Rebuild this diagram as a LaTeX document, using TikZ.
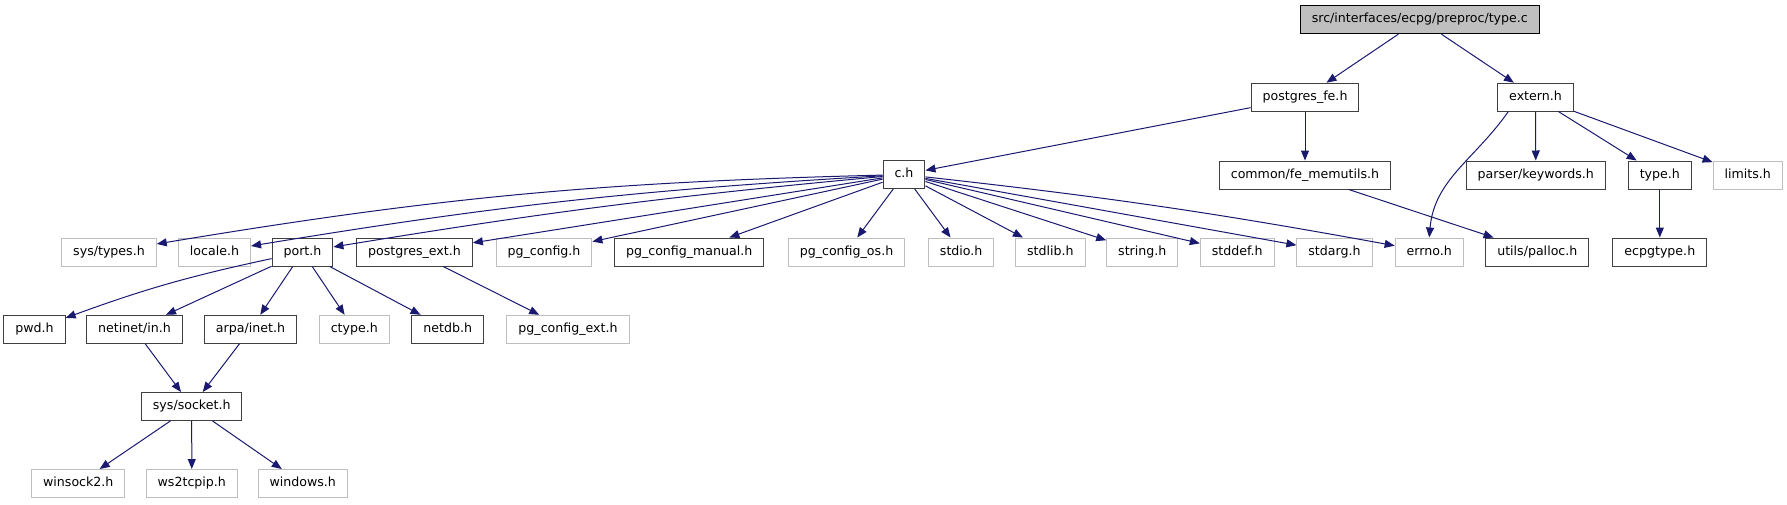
\documentclass[tikz,border=0pt]{standalone}
\usepackage{fontspec}
\setmainfont{DejaVu Sans}
\usepackage{tikz}
\usetikzlibrary{arrows.meta}
\usepackage{xcolor}
\definecolor{edgeblue}{HTML}{191970}
\definecolor{grey25}{HTML}{404040}
\definecolor{grey75}{HTML}{BFBFBF}

\begin{document}
\begin{tikzpicture}[x=1pt, y=-1pt,
  hdr/.style={draw=grey25, line width=1pt, minimum height=28pt, inner xsep=11.5pt, inner ysep=0pt,
    text height=9.5pt, text depth=3pt, font=\fontsize{12.6}{14}\selectfont},
  sysh/.style={hdr, draw=grey75},
  rootfile/.style={hdr, draw=black, fill=grey75},
  dep/.style={draw=edgeblue, line width=1pt, -{Triangle[length=10pt, width=8pt]}}]
\useasboundingbox (0,0) rectangle (1787,504);

% top of the graph
\node[rootfile] (typec) at (1419.8,19.7) {src/interfaces/ecpg/preproc/type.c};
\node[hdr] (pgfe) at (1305,97.2) {postgres\_fe.h};
\node[hdr] (ext) at (1535.5,97.2) {extern.h};

\node[hdr] (ch) at (904,174.5) {c.h};
\node[hdr] (femem) at (1305,175) {common/fe\_memutils.h};
\node[hdr] (kw) at (1535.8,175) {parser/keywords.h};
\node[hdr] (typeh) at (1659.8,175) {type.h};
\node[sysh] (limits) at (1747.7,175) {limits.h};

% headers pulled in by c.h
\node[sysh] (systypes) at (109,252) {sys/types.h};
\node[sysh] (locale) at (214.5,252) {locale.h};
\node[hdr] (port) at (302.5,252) {port.h};
\node[hdr] (pgext) at (414.5,252) {postgres\_ext.h};
\node[sysh] (pgconfig) at (544,252) {pg\_config.h};
\node[hdr] (pgmanual) at (689.2,252) {pg\_config\_manual.h};
\node[sysh] (pgos) at (846.5,252) {pg\_config\_os.h};
\node[sysh] (stdio) at (961.2,252) {stdio.h};
\node[sysh] (stdlib) at (1050.3,252) {stdlib.h};
\node[sysh] (string) at (1142.3,252) {string.h};
\node[sysh] (stddef) at (1237.2,252) {stddef.h};
\node[sysh] (stdarg) at (1334.5,252) {stdarg.h};
\node[sysh] (errno) at (1429.2,252) {errno.h};
\node[hdr] (palloc) at (1537.3,252) {utils/palloc.h};
\node[hdr] (ecpgtype) at (1659.8,252) {ecpgtype.h};

% port.h and friends
\node[hdr] (pwd) at (34.5,329.3) {pwd.h};
\node[hdr] (netin) at (134.5,329.3) {netinet/in.h};
\node[hdr] (arpa) at (250.5,329.3) {arpa/inet.h};
\node[sysh] (ctype) at (354.3,329.3) {ctype.h};
\node[hdr] (netdb) at (447.8,329.3) {netdb.h};
\node[sysh] (pgcfgext) at (568,329.3) {pg\_config\_ext.h};

\node[hdr] (socket) at (191.7,406.5) {sys/socket.h};
\node[sysh] (winsock) at (78.3,483.5) {winsock2.h};
\node[sysh] (ws2) at (191.8,483.5) {ws2tcpip.h};
\node[sysh] (windows) at (302.7,483.5) {windows.h};

% edges
\draw[dep] (typec) -- (pgfe);
\draw[dep] (typec) -- (ext);
\draw[dep] (pgfe) -- (ch);
\draw[dep] (pgfe) -- (femem);
\draw[dep] ([xshift=11pt]ext.south west) to[out=235, in=85] (errno.north);
\draw[dep] (ext) -- (kw);
\draw[dep] (ext) -- (typeh);
\draw[dep] (ext) -- (limits);
\draw[dep] (femem) -- (palloc);
\draw[dep] (typeh) -- (ecpgtype);

\draw[dep] (ch) to[bend right=4] (systypes);
\draw[dep] (ch) to[bend right=3] (locale);
\draw[dep] (ch) to[bend right=2] (port);
\draw[dep] (ch) -- (pgext);
\draw[dep] (ch) -- (pgconfig);
\draw[dep] (ch) -- (pgmanual);
\draw[dep] (ch) -- (pgos);
\draw[dep] (ch) -- (stdio);
\draw[dep] (ch) -- (stdlib);
\draw[dep] (ch) -- (string);
\draw[dep] (ch) -- (stddef);
\draw[dep] (ch) -- (stdarg);
\draw[dep] (ch) to[bend left=2] (errno);

\draw[dep] (port) to[bend right=4] (pwd);
\draw[dep] (port) -- (netin);
\draw[dep] (port) -- (arpa);
\draw[dep] (port) -- (ctype);
\draw[dep] (port) -- (netdb);
\draw[dep] (pgext) -- (pgcfgext);

\draw[dep] (netin) -- (socket);
\draw[dep] (arpa) -- (socket);
\draw[dep] (socket) -- (winsock);
\draw[dep] (socket) -- (ws2);
\draw[dep] (socket) -- (windows);
\end{tikzpicture}
\end{document}
